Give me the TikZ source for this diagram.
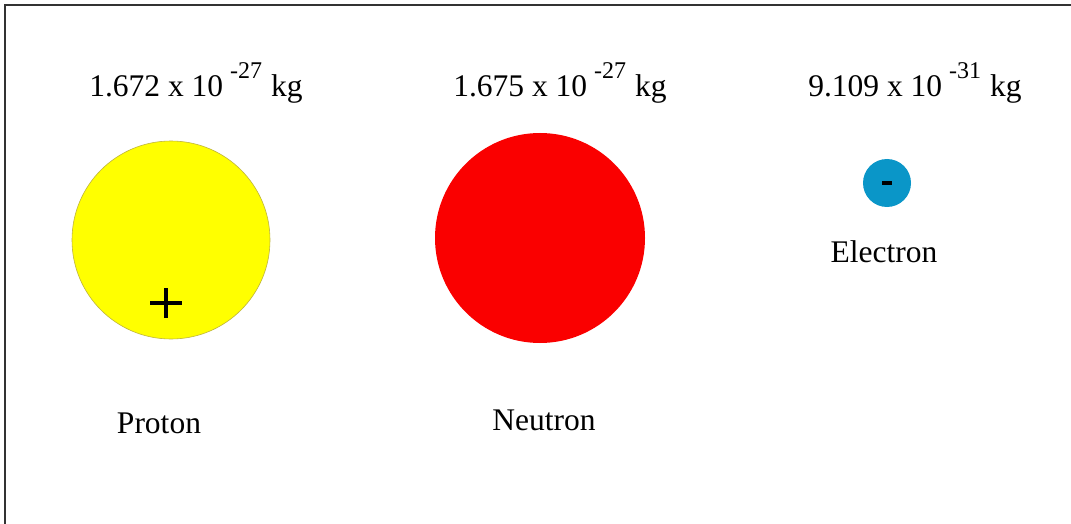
\documentclass[tikz,border=0pt]{standalone}
\usepackage{fontspec}
\setmainfont{Liberation Serif}
\definecolor{protonY}{RGB}{255,255,0}
\definecolor{protonE}{RGB}{190,180,60}
\definecolor{neutronR}{RGB}{250,0,0}
\definecolor{electronB}{RGB}{10,150,200}
\newcommand{\massexp}[2]{#1 x 10\hspace{7pt}\raisebox{18pt}{\fontsize{24}{24}\selectfont #2}\hspace{9pt}kg}
\tikzset{
  lbl/.style={font=\fontsize{31.5}{34}\selectfont, inner sep=0pt, anchor=base},
  particle/.style={circle, inner sep=0pt},
}
\begin{document}
\begin{tikzpicture}[x=1pt,y=-1pt]
\useasboundingbox (0,0) rectangle (1071,524);
\fill[white] (0,0) rectangle (1071,524);
\coordinate (tl) at (5,5);
\coordinate (tr) at (1071,5);
\coordinate (bl) at (5,524);
\draw[line width=1.6pt, black!80] (tr) -- (tl) -- (bl);
% masses
\node[lbl] (m1) at (196,97) {\massexp{1.672}{-27}};
\node[lbl] (m2) at (560,97) {\massexp{1.675}{-27}};
\node[lbl] (m3) at (915,97) {\massexp{9.109}{-31}};
% particles
\node[particle, minimum size=198pt, fill=protonY, draw=protonE, line width=0.6pt] (p) at (171,240) {};
\coordinate (plus) at (166,303);
\draw[line width=4pt] ([xshift=-16pt]plus) -- ([xshift=16pt]plus);
\draw[line width=4pt] ([yshift=-15pt]plus) -- ([yshift=15pt]plus);
\node[particle, minimum size=210pt, fill=neutronR] (n) at (540,238) {};
\node[particle, minimum size=48pt, fill=electronB] (e) at (887,183) {};
\node[inner sep=0pt] (minus) at (e.center) {\rule{10pt}{4pt}};
% names
\node[lbl] (pl) at (159,433) {Proton};
\node[lbl] (nl) at (544,430) {Neutron};
\node[lbl] (el) at (884,262) {Electron};
\end{tikzpicture}
\end{document}
